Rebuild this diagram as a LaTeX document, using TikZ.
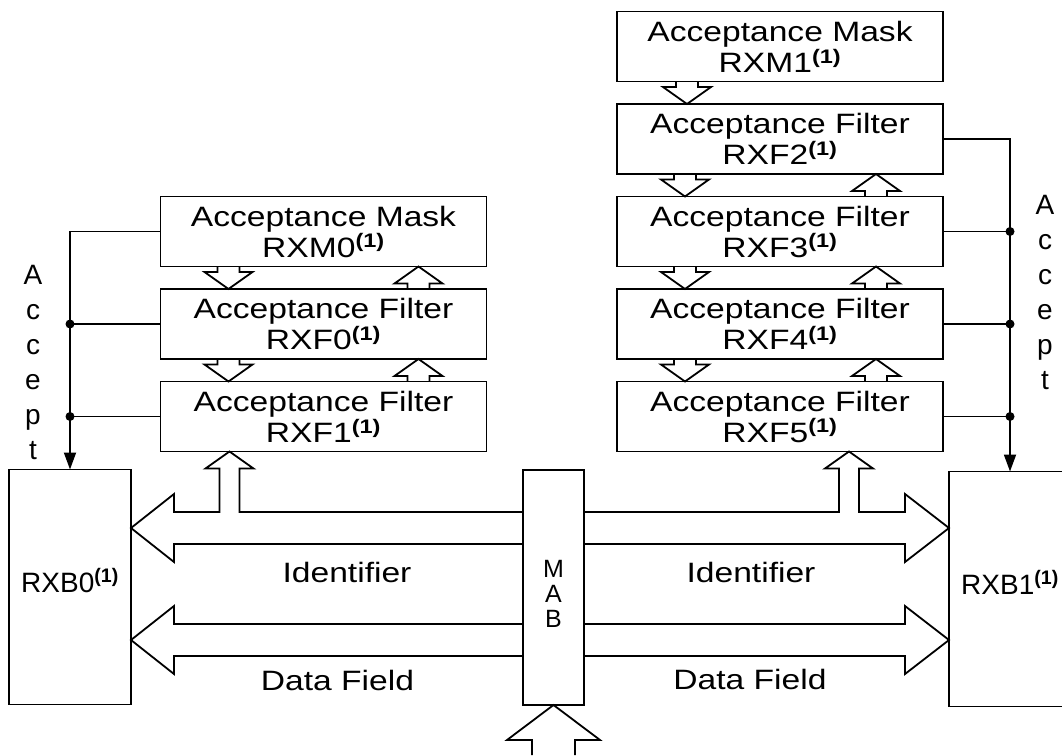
\documentclass[tikz,border=0pt]{standalone}
\usepackage{fontspec}
\setmainfont{Liberation Sans}
\usepackage{tikz}
\usetikzlibrary{positioning,calc,arrows.meta}

\newcommand{\wide}[1]{\scalebox{1.2}[1]{#1}}
\newcommand{\one}{\textsuperscript{\bfseries(1)}}
% hollow arrow from box #1 down into box #2, #3 in from their left side
\newcommand{\passdown}[3]{%
  \draw ($(#1.south west)+(#3-11,0)$) -- ($(#2.north west)+(#3-11,-17)$)
    -- ++(-13,0) -- ($(#2.north west)+(#3,0)$) -- ($(#2.north west)+(#3+24,-17)$)
    -- ++(-13,0) -- ($(#1.south west)+(#3+11,0)$);}
% hollow arrow from box #1 up into box #2, #3 in from their right side
\newcommand{\passup}[3]{%
  \draw ($(#1.north east)+(-#3-11,0)$) -- ($(#2.south east)+(-#3-11,17)$)
    -- ++(-13,0) -- ($(#2.south east)+(-#3,0)$) -- ($(#2.south east)+(-#3+24,17)$)
    -- ++(-13,0) -- ($(#1.north east)+(-#3+11,0)$);}
% wide bus from #1 (on MAB) to #2, head length #3
\newcommand{\bus}[3]{%
  \draw ($(#1)+(0,-16)$) -- ($(#2)+(#3,-16)$) -- ++(0,-18) -- (#2)
    -- ($(#2)+(#3,34)$) -- ++(0,-18) -- ($(#1)+(0,16)$);}

\begin{document}
\begin{tikzpicture}[x=1pt, y=-1pt, line width=1.8pt,
  box/.style={draw, minimum width=326pt, minimum height=70pt, inner sep=0pt, outer sep=0pt,
    align=center, font={\fontsize{28}{31}\selectfont\lineskiplimit=-20pt}},
  buffer/.style={draw, minimum width=122pt, minimum height=235pt, inner sep=0pt, outer sep=0pt,
    text height=20pt, text depth=10pt, font=\fontsize{28}{31}\selectfont},
  txt/.style={inner sep=0pt, font=\fontsize{28}{31}\selectfont},
  vert/.style={txt, align=center},
  dot/.style={circle, fill, inner sep=0pt, minimum size=9pt},
  accept/.style={-{Triangle[length=17pt,width=12pt]}}]
  \useasboundingbox (0,0) rectangle (1062,755);
  \clip (0,0) rectangle (1062,755);

  % filter and mask registers
  \node[box] (rxm1) at (780,46.5) {\wide{Acceptance Mask}\\\wide{RXM1\one}};
  \node[box, below=22.5pt of rxm1] (rxf2) {\wide{Acceptance Filter}\\\wide{RXF2\one}};
  \node[box, below=22.5pt of rxf2] (rxf3) {\wide{Acceptance Filter}\\\wide{RXF3\one}};
  \node[box, below=22.5pt of rxf3] (rxf4) {\wide{Acceptance Filter}\\\wide{RXF4\one}};
  \node[box, below=22.5pt of rxf4] (rxf5) {\wide{Acceptance Filter}\\\wide{RXF5\one}};
  \node[box, left=130.5pt of rxf3] (rxm0) {\wide{Acceptance Mask}\\\wide{RXM0\one}};
  \node[box, below=22.5pt of rxm0] (rxf0) {\wide{Acceptance Filter}\\\wide{RXF0\one}};
  \node[box, below=22.5pt of rxf0] (rxf1) {\wide{Acceptance Filter}\\\wide{RXF1\one}};

  % buffers and MAB
  \node[buffer] (rxb0) at (70,587) {RXB0\one};
  \node[buffer] (rxb1) at (1010,589) {RXB1\one};
  \node[draw, minimum width=61pt, minimum height=235pt, outer sep=0pt] (mab) at (553.5,587.5) {};
  \node[vert, font={\fontsize{25}{25}\selectfont}] (mabtxt) at (553.5,594) {M\\A\\B};
  \coordinate (busA) at (0,528);
  \coordinate (busB) at (0,640);

  \passdown{rxm0}{rxf0}{68}
  \passdown{rxf0}{rxf1}{68}
  \passup{rxf0}{rxm0}{68}
  \passup{rxf1}{rxf0}{68}
  \passdown{rxm1}{rxf2}{70}
  \passdown{rxf2}{rxf3}{68}
  \passdown{rxf3}{rxf4}{68}
  \passdown{rxf4}{rxf5}{68}
  \passup{rxf3}{rxf2}{67}
  \passup{rxf4}{rxf3}{67}
  \passup{rxf5}{rxf4}{67}

  % accept lines
  \draw[accept] (rxm0.west) -| (rxb0.north);
  \draw (rxf0.west) -- (rxf0.west -| rxb0.north) node[dot] (j0) {};
  \draw (rxf1.west) -- (rxf1.west -| rxb0.north) node[dot] (j1) {};
  \draw[accept] (rxf2.east) -| (rxb1.north);
  \draw (rxf3.east) -- (rxf3.east -| rxb1.north) node[dot] (j3) {};
  \draw (rxf4.east) -- (rxf4.east -| rxb1.north) node[dot] (j4) {};
  \draw (rxf5.east) -- (rxf5.east -| rxb1.north) node[dot] (j5) {};
  \node[vert, font={\fontsize{28}{35}\selectfont}] (acc0) at (33,362.5) {A\\c\\c\\e\\p\\t};
  \node[vert, font={\fontsize{28}{35}\selectfont}] (acc1) at (1045,292) {A\\c\\c\\e\\p\\t};

  % identifier buses, with the branches up to RXF1 and RXF5
  \draw ($(mab.west |- busA)+(0,-16)$) -- ($(rxf1.south west |- busA)+(79,-16)$)
    -- ($(rxf1.south west)+(79,17)$) -- ++(14,0) -- ($(rxf1.south west)+(69,0)$)
    -- ($(rxf1.south west)+(45,17)$) -- ++(14,0) -- ($(rxf1.south west |- busA)+(59,-16)$)
    -- ($(rxb0.east |- busA)+(43,-16)$) -- ++(0,-18) -- (rxb0.east |- busA)
    -- ($(rxb0.east |- busA)+(43,34)$) -- ++(0,-18) -- ($(mab.west |- busA)+(0,16)$);
  \draw ($(mab.east |- busA)+(0,-16)$) -- ($(rxf5.south west |- busA)+(222,-16)$)
    -- ($(rxf5.south west)+(222,17)$) -- ++(-14,0) -- ($(rxf5.south west)+(232,0)$)
    -- ($(rxf5.south west)+(256,17)$) -- ++(-14,0) -- ($(rxf5.south west |- busA)+(242,-16)$)
    -- ($(rxb1.west |- busA)+(-44,-16)$) -- ++(0,-18) -- (rxb1.west |- busA)
    -- ($(rxb1.west |- busA)+(-44,34)$) -- ++(0,-18) -- ($(mab.east |- busA)+(0,16)$);

  % data buses
  \bus{mab.west |- busB}{rxb0.east |- busB}{43}
  \bus{mab.east |- busB}{rxb1.west |- busB}{-44}

  % into MAB
  \draw ($(mab.south)+(-21.5,50)$) -- ++(0,-15) -- ++(-25,0) -- (mab.south)
    -- ($(mab.south)+(46.5,35)$) -- ++(-25,0) -- ++(0,15);

  \node[txt] (id0) at (347,572) {\wide{Identifier}};
  \node[txt] (id1) at (751,572) {\wide{Identifier}};
  \node[txt] (df0) at (337.5,680) {\wide{Data Field}};
  \node[txt] (df1) at (750,679) {\wide{Data Field}};
\end{tikzpicture}
\end{document}
